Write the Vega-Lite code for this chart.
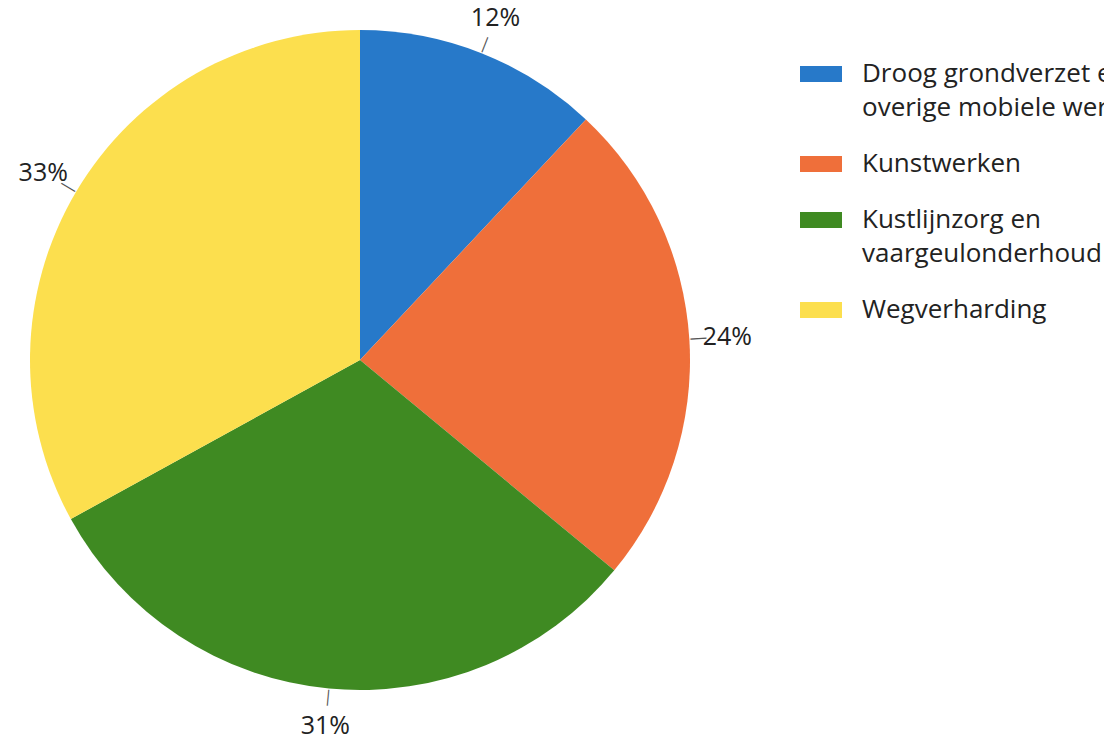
{
  "$schema": "https://vega.github.io/schema/vega-lite/v6.json",
  "width": 720,
  "height": 720,
  "autosize": {"type": "none"},
  "padding": {"left": 0, "top": 0, "right": 384, "bottom": 20},
  "background": "white",
  "view": {"stroke": null},
  "data": {
    "values": [
      {"category": "Droog grondverzet en overige mobiele werktuigen", "share": 0.12},
      {"category": "Kunstwerken", "share": 0.24},
      {"category": "Kustlijnzorg en vaargeulonderhoud", "share": 0.31},
      {"category": "Wegverharding", "share": 0.33}
    ]
  },
  "encoding": {
    "theta": {"field": "share", "type": "quantitative", "stack": true}
  },
  "layer": [
    {
      "mark": {"type": "arc", "outerRadius": 330},
      "encoding": {
        "color": {
          "field": "category",
          "type": "nominal",
          "scale": {
            "domain": ["Droog grondverzet en overige mobiele werktuigen", "Kunstwerken", "Kustlijnzorg en vaargeulonderhoud", "Wegverharding"],
            "range": ["#2779C9", "#EF6F3A", "#3F8A22", "#FCDF4E"]
          },
          "legend": {
            "orient": "none",
            "legendX": 800,
            "legendY": 53,
            "title": null,
            "padding": 0,
            "labelExpr": "datum.label == 'Droog grondverzet en overige mobiele werktuigen' ? ['Droog grondverzet en', 'overige mobiele werktuigen'] : datum.label == 'Kustlijnzorg en vaargeulonderhoud' ? ['Kustlijnzorg en', 'vaargeulonderhoud'] : datum.label",
            "labelFont": "Open Sans",
            "labelFontSize": 26,
            "labelColor": "#222222",
            "labelLimit": 2000,
            "labelOffset": 20,
            "symbolType": "M-1,-0.38H1V0.38H-1Z",
            "symbolSize": 1764,
            "symbolStrokeWidth": 0,
            "symbolOpacity": 1,
            "rowPadding": 22,
            "encode": {"labels": {"update": {"lineHeight": {"value": 34}}}}
          }
        }
      }
    },
    {
      "mark": {"type": "text", "radius": 340, "text": "|", "fontSize": 16, "color": "#555555", "font": "Open Sans"},
      "encoding": {
        "detail": {"field": "category", "type": "nominal"},
        "angle": {
          "field": "share",
          "type": "quantitative",
          "scale": {
            "domain": [0.12, 0.24, 0.31, 0.33],
            "range": [21.6, 86.4, 185.4, 300.6]
          }
        }
      }
    },
    {
      "mark": {"type": "text", "radius": 368, "fontSize": 25, "font": "Open Sans", "color": "#222222"},
      "encoding": {
        "detail": {"field": "category", "type": "nominal"},
        "text": {"field": "share", "type": "quantitative", "format": ".0%"}
      }
    }
  ]
}
